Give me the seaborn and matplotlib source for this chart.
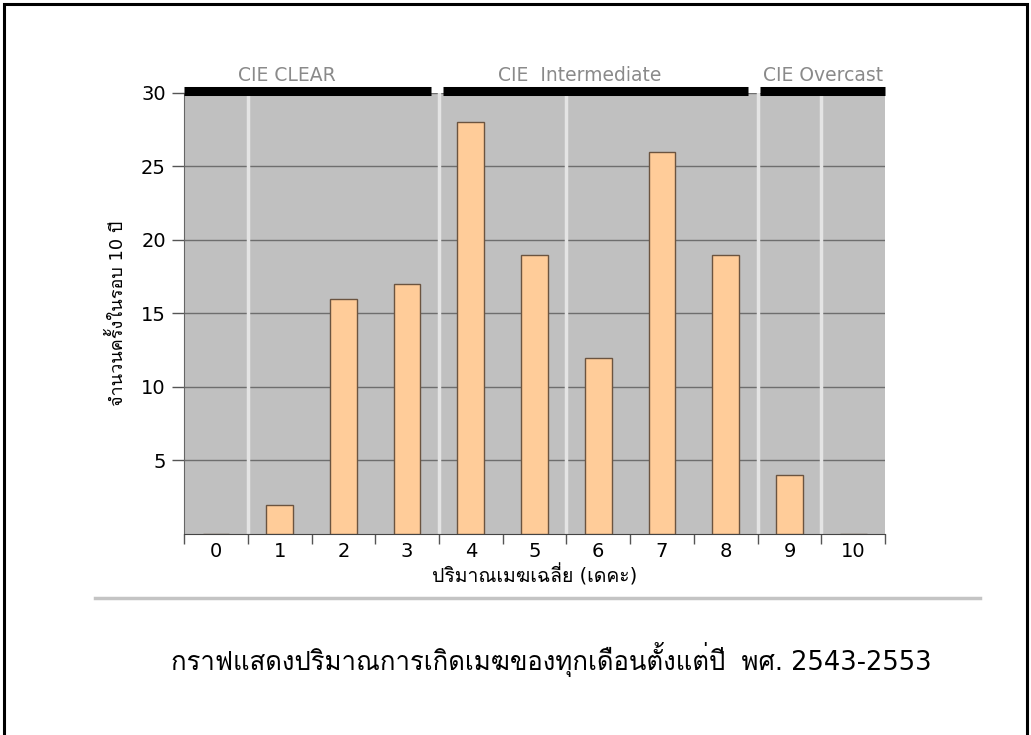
import matplotlib
matplotlib.use('Agg')
import numpy as np
import pandas as pd
import matplotlib.pyplot as plt
import matplotlib.font_manager as font_manager
from matplotlib.ft2font import FT2Font
from matplotlib.patches import Rectangle
import seaborn as sns

# average cloud amount (0-10) and number of occurrences in 10 years
cloud_amount = [0, 1, 2, 3, 4, 5, 6, 7, 8, 9, 10]
occurrences = [0, 2, 16, 17, 28, 19, 12, 26, 19, 4, 0]
sky_types = ['CIE CLEAR', 'CIE  Intermediate', 'CIE Overcast']
sky_spans = [(-0.5, 3.38), (3.57, 8.35), (8.53, 10.5)]
sky_label_x = [1.12, 5.7, 9.52]
ylabel = 'จำนวนครั้งในรอบ 10 ปี'
xlabel = 'ปริมาณเมฆเฉลี่ย (เดคะ)'
title = 'กราฟแสดงปริมาณการเกิดเมฆของทุกเดือนตั้งแต่ปี  พศ. 2543-2553'


def find_thai_font():
    # look for any installed font that has Thai glyphs
    for f in font_manager.fontManager.ttflist:
        try:
            cmap = FT2Font(f.fname).get_charmap()
        except Exception:
            continue
        if 0x0E01 in cmap and 0x0E21 in cmap:
            return f.name
    return None


thai = find_thai_font()
families = ['DejaVu Sans'] if thai is None else ['DejaVu Sans', thai]
plt.rcParams['font.family'] = families

df = pd.DataFrame({'cloud': cloud_amount, 'count': occurrences})

fig = plt.figure(figsize=(10.31, 7.35), dpi=100)
ax = fig.add_axes([0.1785, 0.2735, 0.680, 0.600])
ax.set_facecolor('#c0c0c0')

sns.barplot(ax=ax, data=df, x='cloud', y='count', color='#ffcc99', width=0.42,
            edgecolor='#6b5440', linewidth=1.0, saturation=1, zorder=3)

ax.set_xlim(-0.5, 10.5)
ax.set_ylim(0, 30)
ax.set_yticks([5, 10, 15, 20, 25, 30])
ax.yaxis.grid(True, color='#6e6e6e', lw=1.0, zorder=1)
ax.set_axisbelow(True)
for xb in [0.5, 3.5, 5.5, 8.5, 9.5]:
    ax.axvline(xb, color='#e4e4e4', lw=2.5, zorder=2)

ax.tick_params(axis='y', length=9, width=1, color='#555555', labelsize=14, pad=4)
ax.set_xticks(np.arange(len(cloud_amount)))
ax.set_xticks(np.arange(-0.5, len(cloud_amount)), minor=True)
ax.tick_params(axis='x', which='major', length=0, labelsize=14, pad=6)
ax.tick_params(axis='x', which='minor', length=7, width=1, color='#555555')

for s in ['top', 'right']:
    ax.spines[s].set_visible(False)
ax.spines['left'].set_color('#666666')
ax.spines['bottom'].set_color('#444444')

ax.set_xlabel(xlabel, fontsize=14, labelpad=2)
ax.set_ylabel(ylabel, fontsize=13, labelpad=10)

# sky type bands across the top
for name, (x0, x1), lx in zip(sky_types, sky_spans, sky_label_x):
    ax.plot([x0, x1], [30.15, 30.15], color='black', lw=6.5, solid_capstyle='butt',
            clip_on=False, zorder=5)
    ax.text(lx, 30.8, name, ha='center', va='baseline', fontsize=13.5,
            color='#8a8a8a')

# separator line and caption
fig.add_artist(plt.Line2D([0.092, 0.951], [0.187, 0.187], color='#c4c4c4', lw=2.5))
fig.text(0.535, 0.103, title, ha='center', va='center', fontsize=18.5, color='black')

# slide frame
fig.add_artist(Rectangle((0.004, -0.02), 0.992, 1.014, fill=False, lw=2.2,
                         edgecolor='black', transform=fig.transFigure))

fig.savefig('out.png', dpi=100)
